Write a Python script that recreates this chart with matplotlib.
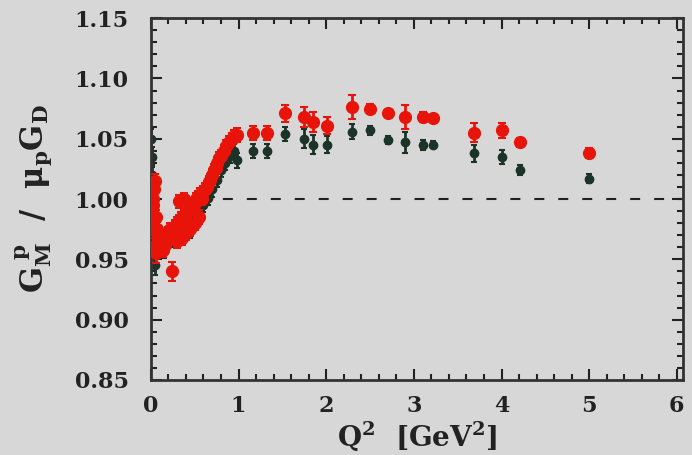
import numpy as np
import matplotlib
matplotlib.use("Agg")
import matplotlib.pyplot as plt
from matplotlib.ticker import MultipleLocator, FormatStrFormatter

# red set: low Q^2 region (dense) followed by the high Q^2 points
red_q2 = [0.01, 0.015, 0.02, 0.03, 0.04, 0.05, 0.06, 0.07, 0.08, 0.10,
          0.12, 0.14, 0.16, 0.18, 0.20, 0.22, 0.24, 0.26, 0.28, 0.30,
          0.32, 0.34, 0.36, 0.38, 0.40, 0.42, 0.44, 0.46, 0.48, 0.50,
          0.52, 0.54, 0.56, 0.58, 0.60, 0.62, 0.64, 0.66, 0.68, 0.70,
          0.72, 0.74, 0.76, 0.78, 0.80, 0.83, 0.86, 0.89, 0.92, 0.95,
          0.30, 0.35, 0.40, 0.45, 0.50, 0.55, 0.24, 0.06, 0.32, 0.38, 0.03,
          0.98, 1.16, 1.33, 1.53, 1.75, 1.85, 2.01,
          2.30, 2.50, 2.70, 2.90, 3.10, 3.22, 3.69, 4.00, 4.21, 5.00]
red_ratio = [0.990, 0.980, 0.995, 1.000, 1.008, 1.015, 0.985, 0.975, 0.970, 0.965,
             0.960, 0.958, 0.962, 0.968, 0.972, 0.975, 0.970, 0.975, 0.978, 0.980,
             0.982, 0.984, 0.980, 0.986, 0.988, 0.990, 0.992, 0.994, 0.993, 0.997,
             1.000, 1.002, 1.004, 1.000, 1.006, 1.008, 1.010, 1.014, 1.016, 1.020,
             1.024, 1.026, 1.030, 1.034, 1.036, 1.040, 1.044, 1.047, 1.050, 1.052,
             0.965, 0.968, 0.972, 0.975, 0.980, 0.985, 0.940, 0.955, 0.998, 1.000, 0.960,
             1.053, 1.055, 1.055, 1.071, 1.068, 1.064, 1.061,
             1.076, 1.075, 1.071, 1.068, 1.068, 1.067, 1.055, 1.057, 1.047, 1.038]
red_err = [0.008, 0.010, 0.008, 0.006, 0.006, 0.006, 0.006, 0.006, 0.006, 0.006,
           0.006, 0.006, 0.005, 0.005, 0.005, 0.005, 0.005, 0.005, 0.005, 0.005,
           0.005, 0.005, 0.005, 0.005, 0.005, 0.005, 0.005, 0.005, 0.005, 0.005,
           0.005, 0.005, 0.005, 0.005, 0.005, 0.005, 0.005, 0.005, 0.005, 0.005,
           0.005, 0.005, 0.005, 0.005, 0.005, 0.005, 0.005, 0.005, 0.005, 0.005,
           0.006, 0.006, 0.006, 0.006, 0.006, 0.006, 0.008, 0.008, 0.005, 0.005, 0.008,
           0.006, 0.006, 0.006, 0.007, 0.008, 0.008, 0.007,
           0.010, 0.004, 0.003, 0.010, 0.004, 0.003, 0.008, 0.006, 0.004, 0.004]

# dark set: sits a little lower than the red one
dark_q2 = [0.005, 0.01, 0.015, 0.02, 0.025, 0.03, 0.04, 0.05,
           0.10, 0.15, 0.20, 0.25, 0.30, 0.35, 0.40, 0.45, 0.50, 0.55,
           0.60, 0.65, 0.70, 0.75, 0.80, 0.85, 0.90, 0.95,
           0.98, 1.16, 1.33, 1.53, 1.75, 1.85, 2.01,
           2.30, 2.50, 2.70, 2.90, 3.10, 3.22, 3.69, 4.00, 4.21, 5.00]
dark_ratio = [1.050, 1.035, 1.020, 1.000, 0.985, 0.970, 0.955, 0.945,
              0.960, 0.957, 0.965, 0.966, 0.972, 0.974, 0.978, 0.974, 0.984, 0.990,
              0.995, 1.001, 1.008, 1.016, 1.024, 1.030, 1.036, 1.040,
              1.032, 1.040, 1.040, 1.054, 1.050, 1.045, 1.045,
              1.056, 1.057, 1.049, 1.047, 1.045, 1.045, 1.038, 1.035, 1.024, 1.017]
dark_err = [0.008, 0.008, 0.008, 0.008, 0.008, 0.008, 0.008, 0.008,
            0.007, 0.006, 0.006, 0.006, 0.006, 0.006, 0.006, 0.006, 0.006, 0.006,
            0.006, 0.006, 0.006, 0.006, 0.006, 0.006, 0.006, 0.006,
            0.006, 0.006, 0.006, 0.006, 0.008, 0.008, 0.007,
            0.006, 0.004, 0.003, 0.009, 0.004, 0.003, 0.007, 0.006, 0.004, 0.004]

bg = "#d7d7d7"
red = "#e8140a"
dark = "#1c3328"
ink = "#222222"

plt.rcParams["font.family"] = "DejaVu Serif"
plt.rcParams["font.weight"] = "bold"
plt.rcParams["mathtext.fontset"] = "dejavuserif"
plt.rcParams["mathtext.default"] = "bf"

fig = plt.figure(figsize=(6.92, 4.55), dpi=100, facecolor=bg)
ax = fig.add_axes([0.218, 0.165, 0.769, 0.795], facecolor=bg)

ax.axhline(1.0, color=ink, lw=1.5, dashes=(4.8, 6.7), zorder=1)

ax.errorbar(dark_q2, dark_ratio, yerr=dark_err, fmt="o", ms=6, color=dark,
            ecolor=dark, elinewidth=2, capsize=2.5, capthick=1.5, zorder=2)
ax.errorbar(red_q2, red_ratio, yerr=red_err, fmt="o", ms=8.5, color=red,
            ecolor=red, elinewidth=2, capsize=3, capthick=1.5, zorder=3)

ax.set_xlim(0, 6.07)
ax.set_ylim(0.85, 1.15)
ax.xaxis.set_major_locator(MultipleLocator(1))
ax.xaxis.set_minor_locator(MultipleLocator(0.2))
ax.yaxis.set_major_locator(MultipleLocator(0.05))
ax.yaxis.set_minor_locator(MultipleLocator(0.01))
ax.yaxis.set_major_formatter(FormatStrFormatter("%.2f"))
ax.tick_params(which="both", direction="in", top=True, right=True,
               color=ink, width=1.5, labelsize=16, labelcolor=ink)
ax.tick_params(which="major", length=8)
ax.tick_params(which="minor", length=4)
ax.tick_params(axis="x", which="major", pad=11)
ax.tick_params(axis="y", which="major", pad=16)
for s in ax.spines.values():
    s.set_linewidth(2)
    s.set_color("#333333")

ax.set_xlabel(r"Q$^{2}$  [GeV$^{2}$]", fontsize=20, fontweight="bold",
              color=ink, labelpad=2)
ax.set_ylabel(r"G$_{M}^{\ p}$  /  $\mu_{p}$G$_{D}$", fontsize=22,
              fontweight="bold", color=ink, labelpad=15)

fig.savefig("out.png", dpi=100, facecolor=bg)
